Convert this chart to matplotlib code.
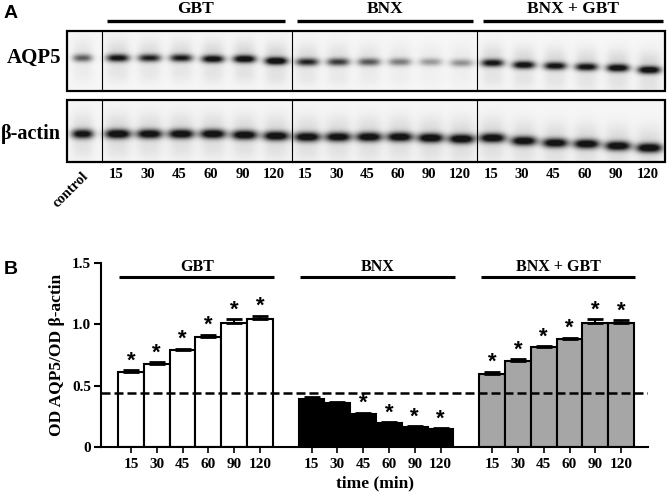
import numpy as np
import matplotlib
matplotlib.use('Agg')
import matplotlib.pyplot as plt

SERIF = ['Liberation Serif', 'DejaVu Serif']
SANS = ['Liberation Sans', 'DejaVu Sans']

# ── data ───────────────────────────────────────────────
groups = ['GBT', 'BNX', 'BNX + GBT']
times = ['15', '30', '45', '60', '90', '120']

gbt_vals = [0.61, 0.676, 0.79, 0.894, 1.012, 1.045]
gbt_err = [0.015, 0.015, 0.012, 0.02, 0.03, 0.025]
bnx_vals = [0.39, 0.36, 0.27, 0.195, 0.165, 0.15]
bnx_err = [0.02, 0.01, 0.01, 0.008, 0.006, 0.005]
combo_vals = [0.594, 0.703, 0.812, 0.877, 1.012, 1.008]
combo_err = [0.02, 0.012, 0.012, 0.015, 0.03, 0.025]
gbt_sig = [1, 1, 1, 1, 1, 1]
bnx_sig = [0, 0, 1, 1, 1, 1]
combo_sig = [1, 1, 1, 1, 1, 1]
control_level = 0.44

# blot band darkness, lanes: control, GBT x6, BNX x6, BNX+GBT x6
aqp5_band = [0.5, 0.8, 0.72, 0.75, 0.85, 0.9, 0.95,
             0.7, 0.62, 0.52, 0.4, 0.3, 0.33,
             0.8, 0.85, 0.82, 0.82, 0.9, 0.92]
actin_band = [0.85, 0.95, 0.9, 0.92, 0.92, 0.92, 0.93,
              0.93, 0.9, 0.92, 0.92, 0.95, 0.95,
              0.93, 0.9, 0.9, 0.92, 0.93, 0.95]

# ── layout (figure pixels) ─────────────────────────────
W, H = 671, 496
box_x0, box_x1 = 67, 665
sections = [67, 102, 292, 477, 665]
aqp5_box = (31, 91)
actin_box = (100, 162)
aqp5_y = [58, 58, 58, 58, 59, 59, 61, 62, 62, 62, 62, 62, 63, 63, 65, 66, 67, 68, 70]
actin_y = [134, 134, 134, 134, 134, 135, 136, 137, 137, 137, 137, 138, 139,
           138, 141, 143, 144, 146, 148]


def lane_centers():
    xs = [(sections[0] + sections[1]) / 2 - 2]
    for a, b in zip(sections[1:-1], sections[2:]):
        step = (b - a) / 6
        xs += [a + step * (i + 0.5) for i in range(6)]
    return xs


def blot_image(levels, ys, box, half_w, sig_y, halo):
    res = 4
    y0, y1 = box
    xx = np.linspace(box_x0, box_x1, (box_x1 - box_x0) * res)
    yy = np.linspace(y0, y1, (y1 - y0) * res)
    X, Y = np.meshgrid(xx, yy)
    dark = np.full(X.shape, 0.035)
    for i, (cx, cy, lv) in enumerate(zip(lane_centers(), ys, levels)):
        hw = half_w * (0.85 if i == 0 else 1.0)
        px = np.exp(-np.abs((X - cx) / hw) ** 3)
        dark += 1.1 * lv * px * np.exp(-((Y - cy) / sig_y) ** 2)
        dark += halo * lv * px * np.exp(-((Y - cy + 5) / (sig_y * 3.5)) ** 2)
        dark += 0.5 * halo * lv * px * np.exp(-((Y - cy - 16) / (sig_y * 2.5)) ** 2)
    return 1 - np.clip(dark, 0, 0.92)


fig = plt.figure(figsize=(W / 100, H / 100), dpi=100)
ov = fig.add_axes([0, 0, 1, 1])
ov.set_xlim(0, W); ov.set_ylim(H, 0); ov.axis('off')

# ── panel A ────────────────────────────────────────────
for levels, ys, box, hw, sy, halo in [(aqp5_band, aqp5_y, aqp5_box, 11.5, 3.8, 0.14),
                                      (actin_band, actin_y, actin_box, 13, 4.6, 0.12)]:
    img = blot_image(levels, ys, box, hw, sy, halo)
    ov.imshow(img, cmap='gray', vmin=0, vmax=1, aspect='auto',
              extent=(box_x0, box_x1, box[1], box[0]), origin='upper',
              interpolation='bilinear')
    ov.add_patch(plt.Rectangle((box_x0, box[0]), box_x1 - box_x0, box[1] - box[0],
                               fill=False, lw=1.6, ec='black'))
    for sx in sections[1:-1]:
        ov.plot([sx, sx], [box[0], box[1]], color='black', lw=0.8)
ov.set_xlim(0, W); ov.set_ylim(H, 0)

ov.text(34, 58, 'AQP5', family=SERIF, weight='bold', fontsize=15, ha='center', va='center')
ov.text(31, 134, 'β-actin', family=SERIF, weight='bold', fontsize=14.5, ha='center', va='center')

lanes = lane_centers()
for i, x in enumerate(lanes[1:]):
    ov.text(x - 2, 174, times[i % 6], family=SERIF, weight='bold', fontsize=10.5,
            ha='center', va='center')
ov.text(71, 190, 'control', family=SERIF, weight='bold', fontsize=10.5,
        ha='center', va='center', rotation=45)

a_lines = [(107, 285), (297, 473), (483, 663)]
for (x0, x1), g in zip(a_lines, groups):
    ov.plot([x0, x1], [21, 21], color='black', lw=2.4, solid_capstyle='butt')
    ov.text((x0 + x1) / 2, 9, g, family=SERIF, weight='bold', fontsize=12.5,
            ha='center', va='center')

ov.text(4, 13, 'A', family=SANS, weight='bold', fontsize=14, ha='left', va='center')
ov.text(4, 270, 'B', family=SANS, weight='bold', fontsize=14, ha='left', va='center')

# ── panel B ────────────────────────────────────────────
ax = fig.add_axes([101 / W, 1 - 447 / H, 547 / W, 184 / H])
series = [(gbt_vals, gbt_err, gbt_sig, 'white'),
          (bnx_vals, bnx_err, bnx_sig, 'black'),
          (combo_vals, combo_err, combo_sig, '#a6a6a6')]
pos_all, lab_all = [], []
for gi, (vals, err, sig, col) in enumerate(series):
    pos = np.arange(6) + gi * 7
    ax.bar(pos, vals, width=1.0, color=col, edgecolor='black', lw=1.5, zorder=2)
    ax.errorbar(pos, vals, yerr=[np.zeros(6), err], fmt='none', ecolor='black',
                elinewidth=1.5, capsize=6, capthick=2, zorder=3)
    for p, v, e, s in zip(pos, vals, err, sig):
        if s:
            ax.text(p, v + e + 0.075, '*', ha='center', va='center', fontsize=16,
                    weight='bold', family=SANS, zorder=4)
    ax.plot([pos[0] - 0.45, pos[-1] + 0.55], [1.385, 1.385], color='black', lw=2.2,
            solid_capstyle='butt', clip_on=False)
    ax.text((pos[0] + pos[-1]) / 2 + 0.05, 1.465, groups[gi], family=SERIF, weight='bold',
            fontsize=11.5, ha='center', va='center')
    pos_all += list(pos); lab_all += times

ax.axhline(control_level, color='black', lw=1.8, ls=(0, (3.6, 1.6)), zorder=5)

ax.set_xlim(-1.16, 20.04)
ax.set_ylim(0, 1.5)
ax.set_yticks([0, 0.5, 1.0, 1.5])
ax.set_yticklabels(['0', '0.5', '1.0', '1.5'])
ax.set_xticks(pos_all)
ax.set_xticklabels(lab_all)
for s in ['top', 'right']:
    ax.spines[s].set_visible(False)
for s in ['left', 'bottom']:
    ax.spines[s].set_linewidth(1.5)
ax.tick_params(axis='y', width=1.5, length=5, pad=2)
ax.tick_params(axis='x', width=1.2, length=4, pad=4)
for t in ax.get_xticklabels() + ax.get_yticklabels():
    t.set_family(SERIF); t.set_weight('bold'); t.set_fontsize(11)
ax.set_ylabel('OD AQP5/OD β-actin', family=SERIF, weight='bold', fontsize=12.5, labelpad=5)
ax.set_xlabel('time (min)', family=SERIF, weight='bold', fontsize=12.5, labelpad=3)
ax.set_facecolor('none')

fig.savefig('out.png', dpi=100)
